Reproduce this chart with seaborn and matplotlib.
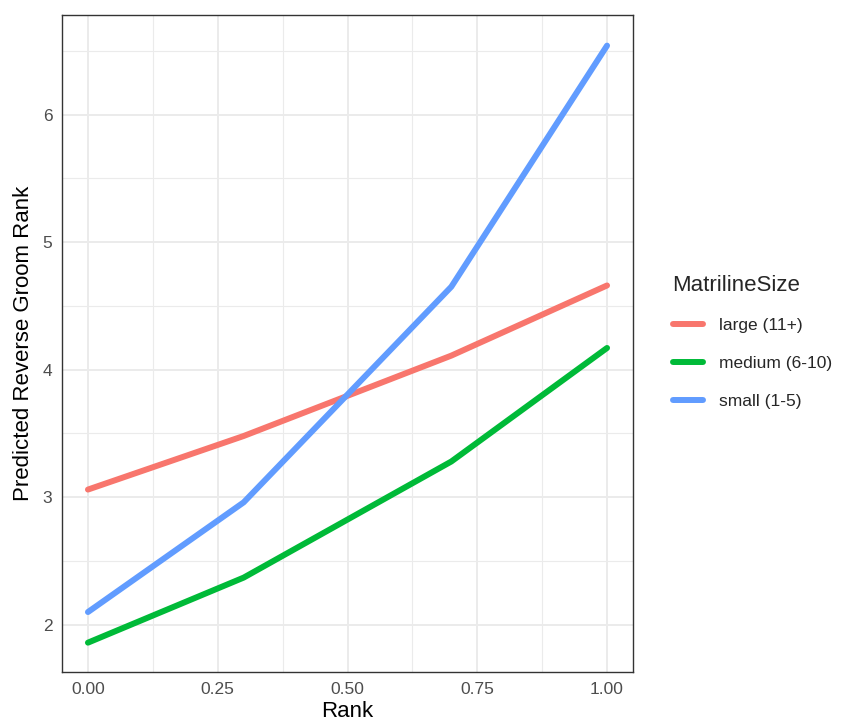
import matplotlib
matplotlib.use("Agg")
import matplotlib.pyplot as plt
from matplotlib.ticker import MultipleLocator
import seaborn as sns
import pandas as pd

# Predicted values at the sampled rank positions
rank = [0.0, 0.3, 0.7, 1.0]
large = [3.06, 3.48, 4.11, 4.66]
medium = [1.86, 2.37, 3.28, 4.17]
small = [2.10, 2.96, 4.65, 6.54]
groups = ["large (11+)", "medium (6-10)", "small (1-5)"]
palette = ["#F8766D", "#00BA38", "#619CFF"]

df = pd.DataFrame({
    "Rank": rank * 3,
    "Pred": large + medium + small,
    "MatrilineSize": [groups[0]] * 4 + [groups[1]] * 4 + [groups[2]] * 4,
})

sns.set_style("white")
plt.rcParams["font.family"] = ["Liberation Sans", "DejaVu Sans"]

fig = plt.figure(figsize=(8.43, 7.27), dpi=100)
ax = fig.add_axes([62 / 843, 1 - 672 / 727, (633 - 62) / 843, (672 - 15) / 727])

sns.lineplot(data=df, x="Rank", y="Pred", hue="MatrilineSize",
             hue_order=groups, palette=palette, linewidth=4.3,
             ax=ax, legend=True)

ax.set_xlim(-0.05, 1.05)
ax.set_ylim(1.63, 6.78)
ax.xaxis.set_major_locator(MultipleLocator(0.25))
ax.xaxis.set_minor_locator(MultipleLocator(0.125))
ax.yaxis.set_major_locator(MultipleLocator(1))
ax.yaxis.set_minor_locator(MultipleLocator(0.5))
ax.set_xticks([0, 0.25, 0.5, 0.75, 1.0])
ax.set_xticklabels(["0.00", "0.25", "0.50", "0.75", "1.00"])

ax.grid(True, which="major", color="#EBEBEB", linewidth=1.4)
ax.grid(True, which="minor", color="#EBEBEB", linewidth=0.8)
ax.set_axisbelow(True)
for s in ax.spines.values():
    s.set_color("#333333")
    s.set_linewidth(1.0)

ax.tick_params(axis="both", which="major", length=4, width=1.0,
               color="#333333", labelcolor="#4D4D4D", labelsize=12.5, pad=3)
ax.tick_params(axis="both", which="minor", length=0)

ax.set_xlabel("Rank", fontsize=16, color="black", labelpad=3)
ax.set_ylabel("Predicted Reverse Groom Rank", fontsize=16, color="black", labelpad=6)

ax.get_legend().remove()
handles, labels = ax.get_legend_handles_labels()
leg = fig.legend(handles, labels, title="MatrilineSize",
                 loc="upper left", bbox_to_anchor=(657 / 843, 1 - 259 / 727),
                 frameon=False, fontsize=12.5, title_fontsize=16,
                 handlelength=1.75, handletextpad=0.92, labelspacing=1.3,
                 alignment="left")
for line in leg.get_lines():
    line.set_linewidth(4.3)

fig.savefig("out.png", dpi=100)
